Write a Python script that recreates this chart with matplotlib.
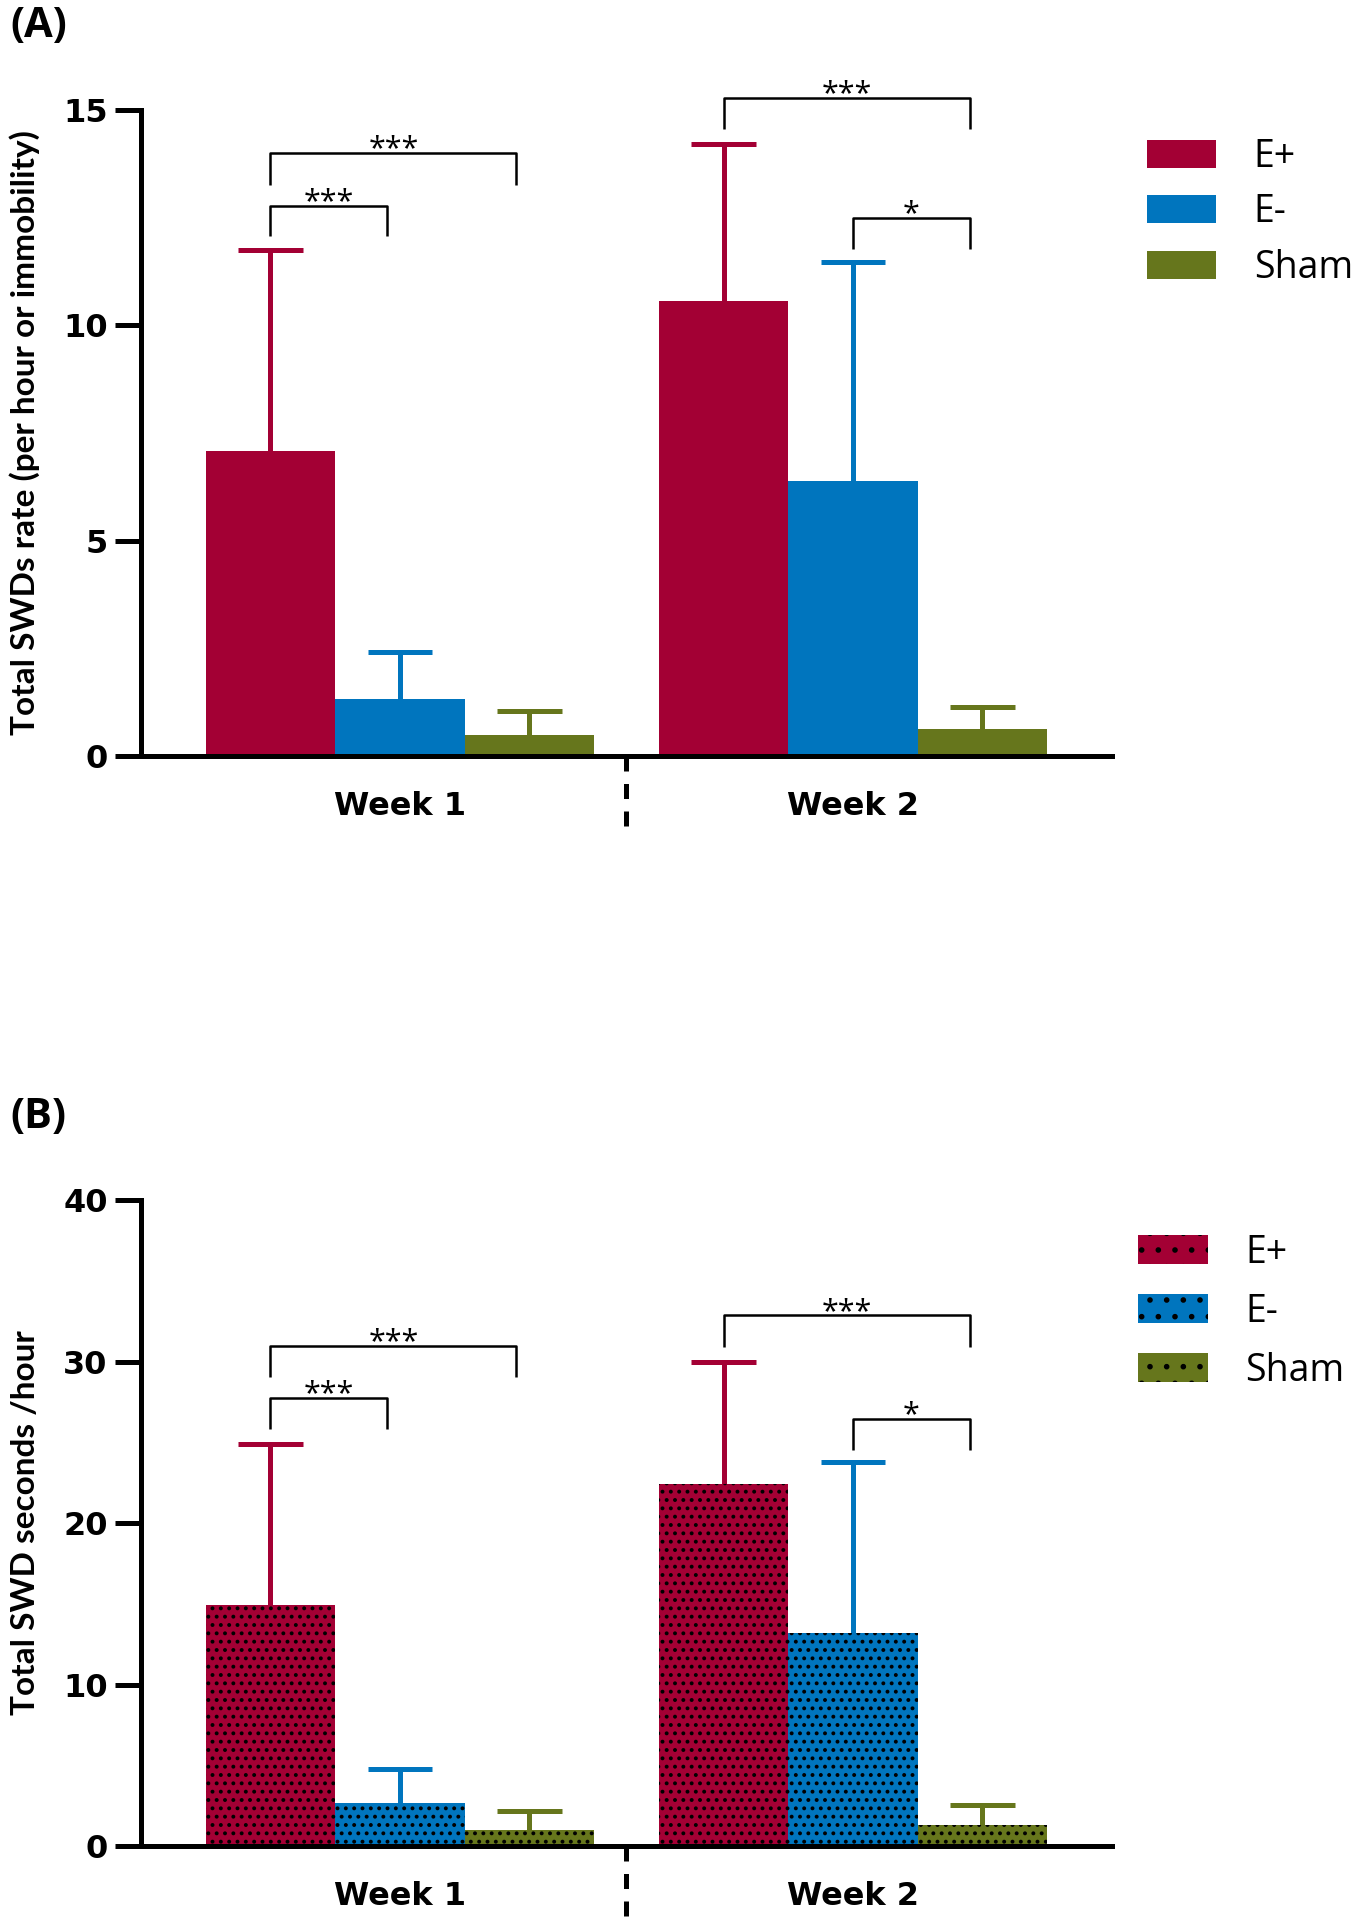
import matplotlib
matplotlib.use('Agg')
import matplotlib.pyplot as plt
from matplotlib.patches import Patch
import numpy as np

groups = ['Week 1', 'Week 2']
series = ['E+', 'E-', 'Sham']
colors = ['#A30034', '#0075BE', '#66761C']

# panel A: total SWDs rate, mean and upper error
rate_eplus = [7.09, 10.57]
rate_eplus_err = [4.67, 3.64]
rate_eminus = [1.31, 6.39]
rate_eminus_err = [1.11, 5.07]
rate_sham = [0.48, 0.62]
rate_sham_err = [0.57, 0.51]

# panel B: total SWD seconds per hour
sec_eplus = [14.9, 22.4]
sec_eplus_err = [10.0, 7.55]
sec_eminus = [2.66, 13.2]
sec_eminus_err = [2.13, 10.6]
sec_sham = [1.0, 1.28]
sec_sham_err = [1.15, 1.25]

# significance brackets: (group, first series, second series, top, leg bottom, stars)
brackets_a = [(0, 0, 1, 12.78, 12.07, '***'), (0, 0, 2, 14.0, 13.27, '***'),
              (1, 0, 2, 15.28, 14.56, '***'), (1, 1, 2, 12.5, 11.77, '*')]
brackets_b = [(0, 0, 1, 27.75, 25.85, '***'), (0, 0, 2, 30.97, 29.05, '***'),
              (1, 0, 2, 32.85, 30.9, '***'), (1, 1, 2, 26.45, 24.5, '*')]

tick_font = 'DejaVu Sans'
plt.rcParams['font.family'] = ['Open Sans', 'DejaVu Sans']
plt.rcParams['hatch.linewidth'] = 1.6

fig = plt.figure(figsize=(13.57, 19.2), dpi=100)
ax_a = fig.add_axes([0.1039, 0.6063, 0.7155, 0.3364])
ax_b = fig.add_axes([0.1039, 0.0385, 0.7155, 0.3365])

group_x = np.array([0.0, 3.5])
offsets = [-1, 0, 1]
cap_half = 0.25


def draw_panel(ax, means, errs, brackets, ymax, step, ylabel, hatch, leg_pos, leg_space):
    for i in range(3):
        x = group_x + offsets[i]
        m = np.array(means[i])
        top = m + np.array(errs[i])
        # upper error bar only
        ax.vlines(x, m, top, color=colors[i], lw=3.6, zorder=1, clip_on=False)
        ax.hlines(top, x - cap_half, x + cap_half, color=colors[i], lw=3.6,
                  zorder=1, clip_on=False)
        ax.bar(x, m, width=1.0, color=colors[i], linewidth=0, zorder=2)
        if hatch:
            ax.bar(x, m, width=1.0, fill=False, edgecolor='black',
                   linewidth=0, hatch=hatch, zorder=3)

    for g, s1, s2, top, leg, stars in brackets:
        x1 = group_x[g] + offsets[s1]
        x2 = group_x[g] + offsets[s2] - 0.1
        ax.plot([x1, x1, x2, x2], [leg, top, top, leg], color='black', lw=1.8,
                clip_on=False, solid_capstyle='butt', zorder=4)
        ax.annotate(stars, xy=((x1 + x2) / 2, top), xytext=(0, -3),
                    textcoords='offset points', ha='center', va='baseline',
                    fontsize=22, annotation_clip=False)

    ax.set_xlim(-2.0, 5.5)
    ax.set_ylim(0, ymax)
    ax.set_yticks(np.arange(0, ymax + 1, step))
    ax.set_xticks(group_x)
    ax.set_xticklabels(groups)
    for lab in ax.get_yticklabels() + ax.get_xticklabels():
        lab.set_fontfamily(tick_font)
        lab.set_fontweight('bold')
        lab.set_fontsize(23)
    ax.tick_params(axis='y', length=19, width=3.6, pad=5)
    ax.tick_params(axis='x', length=0, pad=25)
    for sp in ['top', 'right']:
        ax.spines[sp].set_visible(False)
    for sp in ['left', 'bottom']:
        ax.spines[sp].set_linewidth(3.6)
    ax.set_ylabel(ylabel, fontsize=24, fontweight='bold', family='Lato')
    ax.yaxis.set_label_coords(-0.104, 0.5)

    # dashed separator below the axis between the two weeks
    ax.plot([1.75, 1.75], [0, -0.12], transform=ax.get_xaxis_transform(),
            color='black', lw=3.6, linestyle=(0, (3, 2.5)), clip_on=False)

    handles = [Patch(facecolor=colors[i], edgecolor='black', linewidth=0,
                     hatch=('.' if hatch else None)) for i in range(3)]
    ax.legend(handles, series, loc='upper left', bbox_to_anchor=leg_pos,
              frameon=False, fontsize=27, handlelength=1.85, handleheight=0.78,
              handletextpad=1.0, labelspacing=leg_space, borderpad=0,
              borderaxespad=0)


draw_panel(ax_a, [rate_eplus, rate_eminus, rate_sham],
           [rate_eplus_err, rate_eminus_err, rate_sham_err], brackets_a,
           15, 5, 'Total SWDs rate (per hour or immobility)', None,
           (1.036, 0.957), 0.47)
draw_panel(ax_b, [sec_eplus, sec_eminus, sec_sham],
           [sec_eplus_err, sec_eminus_err, sec_sham_err], brackets_b,
           40, 10, 'Total SWD seconds /hour', '..',
           (1.027, 0.948), 0.56)

fig.text(0.008, 0.986, '(A)', fontsize=30, fontweight='bold', va='center')
fig.text(0.008, 0.418, '(B)', fontsize=30, fontweight='bold', va='center')

fig.savefig('out.png', dpi=100)
